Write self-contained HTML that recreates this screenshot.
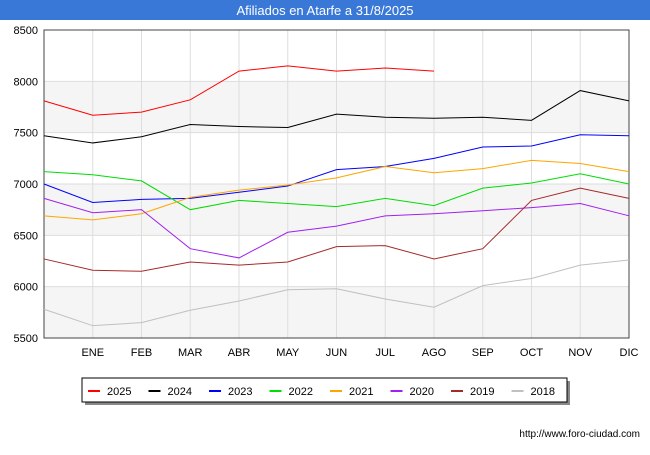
<!DOCTYPE html>
<html><head><meta charset="utf-8"><style>
body{margin:0;width:650px;height:450px;background:#fff;font-family:"Liberation Sans",sans-serif;overflow:hidden}
</style></head><body>
<svg id="c" width="650" height="450" xmlns="http://www.w3.org/2000/svg"></svg>
<script>
const months=["","ENE","FEB","MAR","ABR","MAY","JUN","JUL","AGO","SEP","OCT","NOV","DIC"];
const yTicks=[5500,6000,6500,7000,7500,8000,8500];
const seriesNames=["2025","2024","2023","2022","2021","2020","2019","2018"];
const seriesColors=["#ff0000","#000000","#0000ff","#00dd00","#ffa500","#a020f0","#a52a2a","#c0c0c0"];
const s2025=[7810,7670,7700,7820,8100,8150,8100,8130,8100];
const s2024=[7470,7400,7460,7580,7560,7550,7680,7650,7640,7650,7620,7910,7810];
const s2023=[7000,6820,6850,6860,6920,6980,7140,7170,7250,7360,7370,7480,7470];
const s2022=[7120,7090,7030,6750,6840,6810,6780,6860,6790,6960,7010,7100,7000];
const s2021=[6690,6650,6710,6870,6940,6990,7060,7170,7110,7150,7230,7200,7120];
const s2020=[6860,6720,6750,6370,6280,6530,6590,6690,6710,6740,6770,6810,6690];
const s2019=[6270,6160,6150,6240,6210,6240,6390,6400,6270,6370,6840,6960,6860];
const s2018=[5780,5620,5650,5770,5860,5970,5980,5880,5800,6010,6080,6210,6260];
const allSeries=[s2025,s2024,s2023,s2022,s2021,s2020,s2019,s2018];
const X0=44,X1=629,Y0=30,Y1=338,YMIN=5500,YMAX=8500;
const xs=i=>X0+i*(X1-X0)/(months.length-1);
const ys=v=>Y1-(v-YMIN)/(YMAX-YMIN)*(Y1-Y0);
const svg=document.getElementById('c');
function mk(t,a,txt){const e=document.createElementNS("http://www.w3.org/2000/svg",t);for(const k in a)e.setAttribute(k,a[k]);if(txt!==undefined)e.textContent=txt;svg.appendChild(e);return e;}
let e=mk('rect',{x:0,y:0,width:650,height:20,fill:'#3a78d8'});

e=mk('text',{x:325,y:15,'text-anchor':'middle','font-size':13,fill:'#fff'},'Afiliados en Atarfe a 31/8/2025');

for(let i=0;i<yTicks.length-1;i+=2){
 e=mk('rect',{x:X0,y:ys(yTicks[i+1]),width:X1-X0,height:ys(yTicks[i])-ys(yTicks[i+1]),fill:'#f5f5f5'});
 
}
yTicks.forEach(v=>{
 e=mk('line',{x1:X0,x2:X1,y1:ys(v),y2:ys(v),stroke:'#ddd'});
 
 e=mk('text',{x:X0-6,y:ys(v)+4,'text-anchor':'end','font-size':11,fill:'#000'},v);
 
});
months.forEach((m,i)=>{
 e=mk('line',{x1:xs(i),x2:xs(i),y1:Y0,y2:Y1,stroke:'#ddd'});
 
 if(m){e=mk('text',{x:xs(i),y:356,'text-anchor':'middle','font-size':11,fill:'#000'},m);
 }
});
e=mk('rect',{x:X0,y:Y0,width:X1-X0,height:Y1-Y0,fill:'none',stroke:'#444'});

allSeries.forEach((s,k)=>{
 e=mk('polyline',{points:s.map((v,i)=>xs(i)+','+ys(v)).join(' '),fill:'none',stroke:seriesColors[k],'stroke-width':1});
 
});
e=mk('rect',{x:85,y:381,width:485,height:24,fill:'#888'});

e=mk('rect',{x:82,y:378,width:485,height:24,fill:'#fff',stroke:'#000'});

seriesNames.forEach((n,k)=>{
 const lx=88+k*60.5;
 e=mk('line',{x1:lx,x2:lx+12,y1:391,y2:391,stroke:seriesColors[k],'stroke-width':2});
 
 e=mk('text',{x:lx+19,y:395,'font-size':11,fill:'#000'},n);
 
});
e=mk('text',{x:640,y:437,'text-anchor':'end','font-size':10,fill:'#000'},'http://www.foro-ciudad.com');

</script>
</body></html>
